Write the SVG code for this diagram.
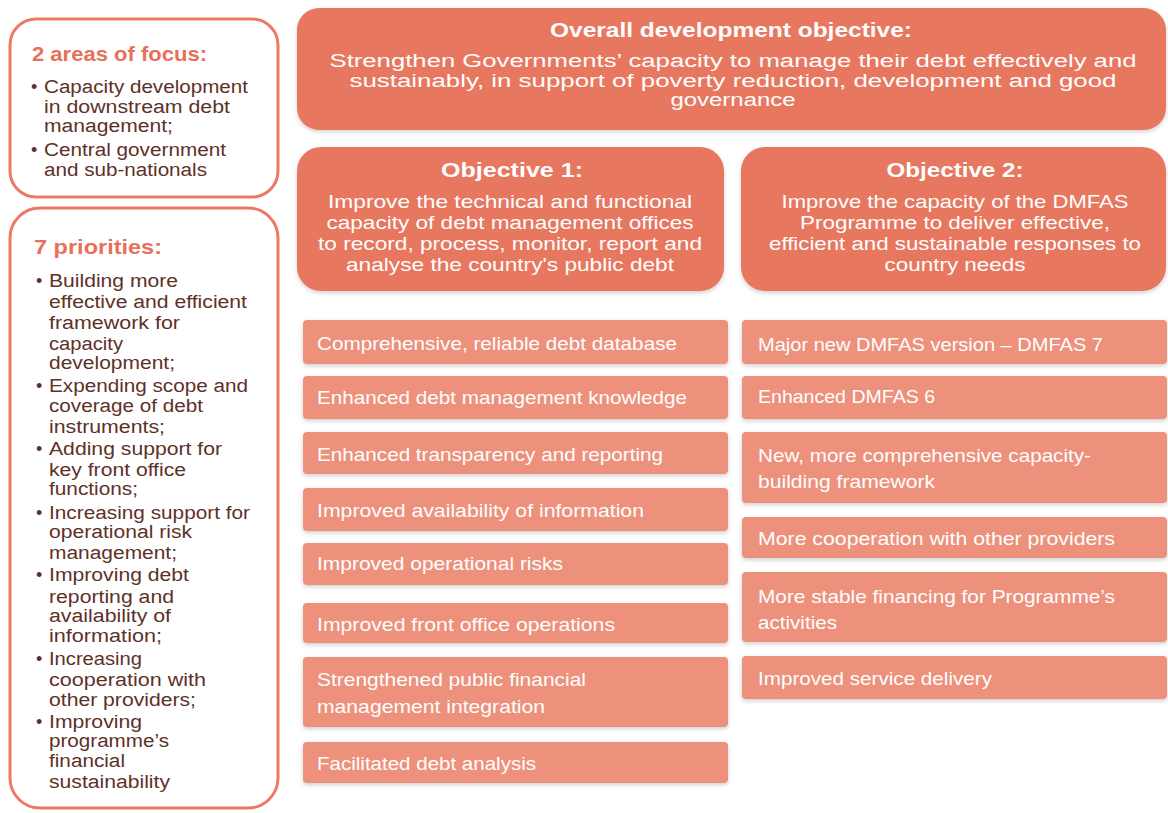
<svg xmlns="http://www.w3.org/2000/svg" width="1168" height="813" viewBox="0 0 1168 813">
<defs>
<filter id="sh" x="-5%" y="-20%" width="110%" height="150%">
<feDropShadow dx="0" dy="2" stdDeviation="2" flood-color="#000" flood-opacity="0.18"/>
</filter>
<style>
.dark{fill:#E87760;filter:url(#sh)}
.light{fill:#ED917B;filter:url(#sh)}
.outline{fill:#fff;stroke:#EA7A64;stroke-width:3}
.wt{fill:#fff;font-family:"Liberation Sans",Arial,sans-serif}
.hd{font-weight:bold;font-size:21px}
.bd{font-size:18px}
.ob{font-size:18.5px}
.it{font-size:19px}
.lt{fill:#E8705A;font-family:"Liberation Sans",Arial,sans-serif;font-weight:bold;font-size:21px}
.bt{fill:#5E3128;font-family:"Liberation Sans",Arial,sans-serif;font-size:18px}
</style>
</defs>
<rect width="1168" height="813" fill="#fff"/>

<g id="focus">
<rect class="outline" x="10" y="19" width="268" height="178" rx="26"/>
<text class="lt" x="32" y="61" textLength="175" lengthAdjust="spacingAndGlyphs">2 areas of focus:</text>
<text class="bt" x="31" y="93">•</text>
<text class="bt" x="44" y="93" textLength="204" lengthAdjust="spacingAndGlyphs">Capacity development</text>
<text class="bt" x="44" y="113" textLength="186" lengthAdjust="spacingAndGlyphs">in downstream debt</text>
<text class="bt" x="44" y="132" textLength="129" lengthAdjust="spacingAndGlyphs">management;</text>
<text class="bt" x="31" y="156">•</text>
<text class="bt" x="44" y="156" textLength="182" lengthAdjust="spacingAndGlyphs">Central government</text>
<text class="bt" x="44" y="176" textLength="163" lengthAdjust="spacingAndGlyphs">and sub-nationals</text>
</g>

<g id="priorities">
<rect class="outline" x="10" y="208" width="268" height="600" rx="30"/>
<text class="lt" x="34" y="254" textLength="128" lengthAdjust="spacingAndGlyphs">7 priorities:</text>
<text class="bt" x="36" y="287">•</text>
<text class="bt" x="49" y="287" textLength="129" lengthAdjust="spacingAndGlyphs">Building more</text>
<text class="bt" x="49" y="307.5" textLength="198" lengthAdjust="spacingAndGlyphs">effective and efficient</text>
<text class="bt" x="49" y="329" textLength="131" lengthAdjust="spacingAndGlyphs">framework for</text>
<text class="bt" x="49" y="350" textLength="74" lengthAdjust="spacingAndGlyphs">capacity</text>
<text class="bt" x="49" y="369" textLength="126" lengthAdjust="spacingAndGlyphs">development;</text>
<text class="bt" x="36" y="391.5">•</text>
<text class="bt" x="49" y="391.5" textLength="199" lengthAdjust="spacingAndGlyphs">Expending scope  and</text>
<text class="bt" x="49" y="412" textLength="154" lengthAdjust="spacingAndGlyphs">coverage of debt</text>
<text class="bt" x="49" y="432.5" textLength="116" lengthAdjust="spacingAndGlyphs">instruments;</text>
<text class="bt" x="36" y="455">•</text>
<text class="bt" x="49" y="455" textLength="173" lengthAdjust="spacingAndGlyphs">Adding support for</text>
<text class="bt" x="49" y="475.5" textLength="137" lengthAdjust="spacingAndGlyphs">key front office</text>
<text class="bt" x="49" y="495" textLength="89" lengthAdjust="spacingAndGlyphs">functions;</text>
<text class="bt" x="36" y="518.5">•</text>
<text class="bt" x="49" y="518.5" textLength="201" lengthAdjust="spacingAndGlyphs">Increasing support for</text>
<text class="bt" x="49" y="538" textLength="143" lengthAdjust="spacingAndGlyphs">operational risk</text>
<text class="bt" x="49" y="559" textLength="128" lengthAdjust="spacingAndGlyphs">management;</text>
<text class="bt" x="36" y="581">•</text>
<text class="bt" x="49" y="581" textLength="140" lengthAdjust="spacingAndGlyphs">Improving debt</text>
<text class="bt" x="49" y="602.5" textLength="125" lengthAdjust="spacingAndGlyphs">reporting and</text>
<text class="bt" x="49" y="622" textLength="122" lengthAdjust="spacingAndGlyphs">availability of</text>
<text class="bt" x="49" y="641.5" textLength="113" lengthAdjust="spacingAndGlyphs">information;</text>
<text class="bt" x="36" y="665">•</text>
<text class="bt" x="49" y="665" textLength="93" lengthAdjust="spacingAndGlyphs">Increasing</text>
<text class="bt" x="49" y="686" textLength="157" lengthAdjust="spacingAndGlyphs">cooperation with</text>
<text class="bt" x="49" y="705.5" textLength="147" lengthAdjust="spacingAndGlyphs">other providers;</text>
<text class="bt" x="36" y="727.5">•</text>
<text class="bt" x="49" y="727.5" textLength="93" lengthAdjust="spacingAndGlyphs">Improving</text>
<text class="bt" x="49" y="747" textLength="120" lengthAdjust="spacingAndGlyphs">programme’s</text>
<text class="bt" x="49" y="767" textLength="76" lengthAdjust="spacingAndGlyphs">financial</text>
<text class="bt" x="49" y="788" textLength="121" lengthAdjust="spacingAndGlyphs">sustainability</text>
</g>

<g id="overall">
<rect class="dark" x="297" y="8" width="869" height="122" rx="22"/>
<text class="wt hd" x="731" y="37" text-anchor="middle" textLength="362" lengthAdjust="spacingAndGlyphs">Overall development objective:</text>
<text class="wt bd" x="733" y="67" text-anchor="middle" textLength="807" lengthAdjust="spacingAndGlyphs">Strengthen Governments’ capacity to manage their debt effectively and</text>
<text class="wt bd" x="733" y="87" text-anchor="middle" textLength="767" lengthAdjust="spacingAndGlyphs">sustainably, in support of poverty reduction, development and good</text>
<text class="wt bd" x="733" y="106" text-anchor="middle" textLength="125" lengthAdjust="spacingAndGlyphs">governance</text>
</g>

<g id="objective1">
<rect class="dark" x="297" y="147" width="427" height="144" rx="24"/>
<text class="wt hd" x="512" y="177" text-anchor="middle" textLength="142" lengthAdjust="spacingAndGlyphs">Objective 1:</text>
<text class="wt ob" x="510" y="208" text-anchor="middle" textLength="364" lengthAdjust="spacingAndGlyphs">Improve the technical and functional</text>
<text class="wt ob" x="510" y="229" text-anchor="middle" textLength="367" lengthAdjust="spacingAndGlyphs">capacity of debt management offices</text>
<text class="wt ob" x="510" y="250" text-anchor="middle" textLength="384" lengthAdjust="spacingAndGlyphs">to record, process, monitor, report and</text>
<text class="wt ob" x="510" y="271" text-anchor="middle" textLength="328" lengthAdjust="spacingAndGlyphs">analyse the country's public debt</text>
</g>

<g id="objective2">
<rect class="dark" x="741" y="147" width="425" height="144" rx="24"/>
<text class="wt hd" x="955" y="177" text-anchor="middle" textLength="137" lengthAdjust="spacingAndGlyphs">Objective 2:</text>
<text class="wt ob" x="955" y="208" text-anchor="middle" textLength="347" lengthAdjust="spacingAndGlyphs">Improve the capacity of the DMFAS</text>
<text class="wt ob" x="955" y="229" text-anchor="middle" textLength="310" lengthAdjust="spacingAndGlyphs">Programme to deliver effective,</text>
<text class="wt ob" x="955" y="250" text-anchor="middle" textLength="372" lengthAdjust="spacingAndGlyphs">efficient and sustainable responses to</text>
<text class="wt ob" x="955" y="271" text-anchor="middle" textLength="141" lengthAdjust="spacingAndGlyphs">country needs</text>
</g>

<g id="out1-1"><rect class="light" x="303" y="320" width="425" height="44" rx="4"/>
<text class="wt it" x="317" y="350" textLength="360" lengthAdjust="spacingAndGlyphs">Comprehensive, reliable debt database</text></g>
<g id="out1-2"><rect class="light" x="303" y="376" width="425" height="43" rx="4"/>
<text class="wt it" x="317" y="404" textLength="370" lengthAdjust="spacingAndGlyphs">Enhanced debt management knowledge</text></g>
<g id="out1-3"><rect class="light" x="303" y="432" width="425" height="42" rx="4"/>
<text class="wt it" x="317" y="461" textLength="346" lengthAdjust="spacingAndGlyphs">Enhanced transparency and reporting</text></g>
<g id="out1-4"><rect class="light" x="303" y="488" width="425" height="43" rx="4"/>
<text class="wt it" x="317" y="517" textLength="327" lengthAdjust="spacingAndGlyphs">Improved availability of information</text></g>
<g id="out1-5"><rect class="light" x="303" y="543" width="425" height="42" rx="4"/>
<text class="wt it" x="317" y="570" textLength="246" lengthAdjust="spacingAndGlyphs">Improved operational risks</text></g>
<g id="out1-6"><rect class="light" x="303" y="603" width="425" height="40" rx="4"/>
<text class="wt it" x="317" y="631" textLength="298" lengthAdjust="spacingAndGlyphs">Improved front office operations</text></g>
<g id="out1-7"><rect class="light" x="303" y="657" width="425" height="70" rx="4"/>
<text class="wt it" x="317" y="686" textLength="269" lengthAdjust="spacingAndGlyphs">Strengthened public financial</text>
<text class="wt it" x="317" y="713" textLength="228" lengthAdjust="spacingAndGlyphs">management integration</text></g>
<g id="out1-8"><rect class="light" x="303" y="742" width="425" height="41" rx="4"/>
<text class="wt it" x="317" y="770" textLength="219" lengthAdjust="spacingAndGlyphs">Facilitated debt analysis</text></g>

<g id="out2-1"><rect class="light" x="742" y="320" width="425" height="44" rx="4"/>
<text class="wt it" x="758" y="351" textLength="345" lengthAdjust="spacingAndGlyphs">Major new DMFAS version – DMFAS 7</text></g>
<g id="out2-2"><rect class="light" x="742" y="376" width="425" height="43" rx="4"/>
<text class="wt it" x="758" y="403" textLength="177" lengthAdjust="spacingAndGlyphs">Enhanced DMFAS 6</text></g>
<g id="out2-3"><rect class="light" x="742" y="432" width="425" height="71" rx="4"/>
<text class="wt it" x="758" y="462" textLength="333" lengthAdjust="spacingAndGlyphs">New, more comprehensive capacity-</text>
<text class="wt it" x="758" y="488" textLength="177" lengthAdjust="spacingAndGlyphs">building framework</text></g>
<g id="out2-4"><rect class="light" x="742" y="517" width="425" height="41" rx="4"/>
<text class="wt it" x="758" y="545" textLength="357" lengthAdjust="spacingAndGlyphs">More cooperation with other providers</text></g>
<g id="out2-5"><rect class="light" x="742" y="572" width="425" height="70" rx="4"/>
<text class="wt it" x="758" y="603" textLength="357" lengthAdjust="spacingAndGlyphs">More stable financing for Programme’s</text>
<text class="wt it" x="758" y="629" textLength="79" lengthAdjust="spacingAndGlyphs">activities</text></g>
<g id="out2-6"><rect class="light" x="742" y="656" width="425" height="43" rx="4"/>
<text class="wt it" x="758" y="685" textLength="234" lengthAdjust="spacingAndGlyphs">Improved service delivery</text></g>

<g id="connectors"></g>
</svg>
